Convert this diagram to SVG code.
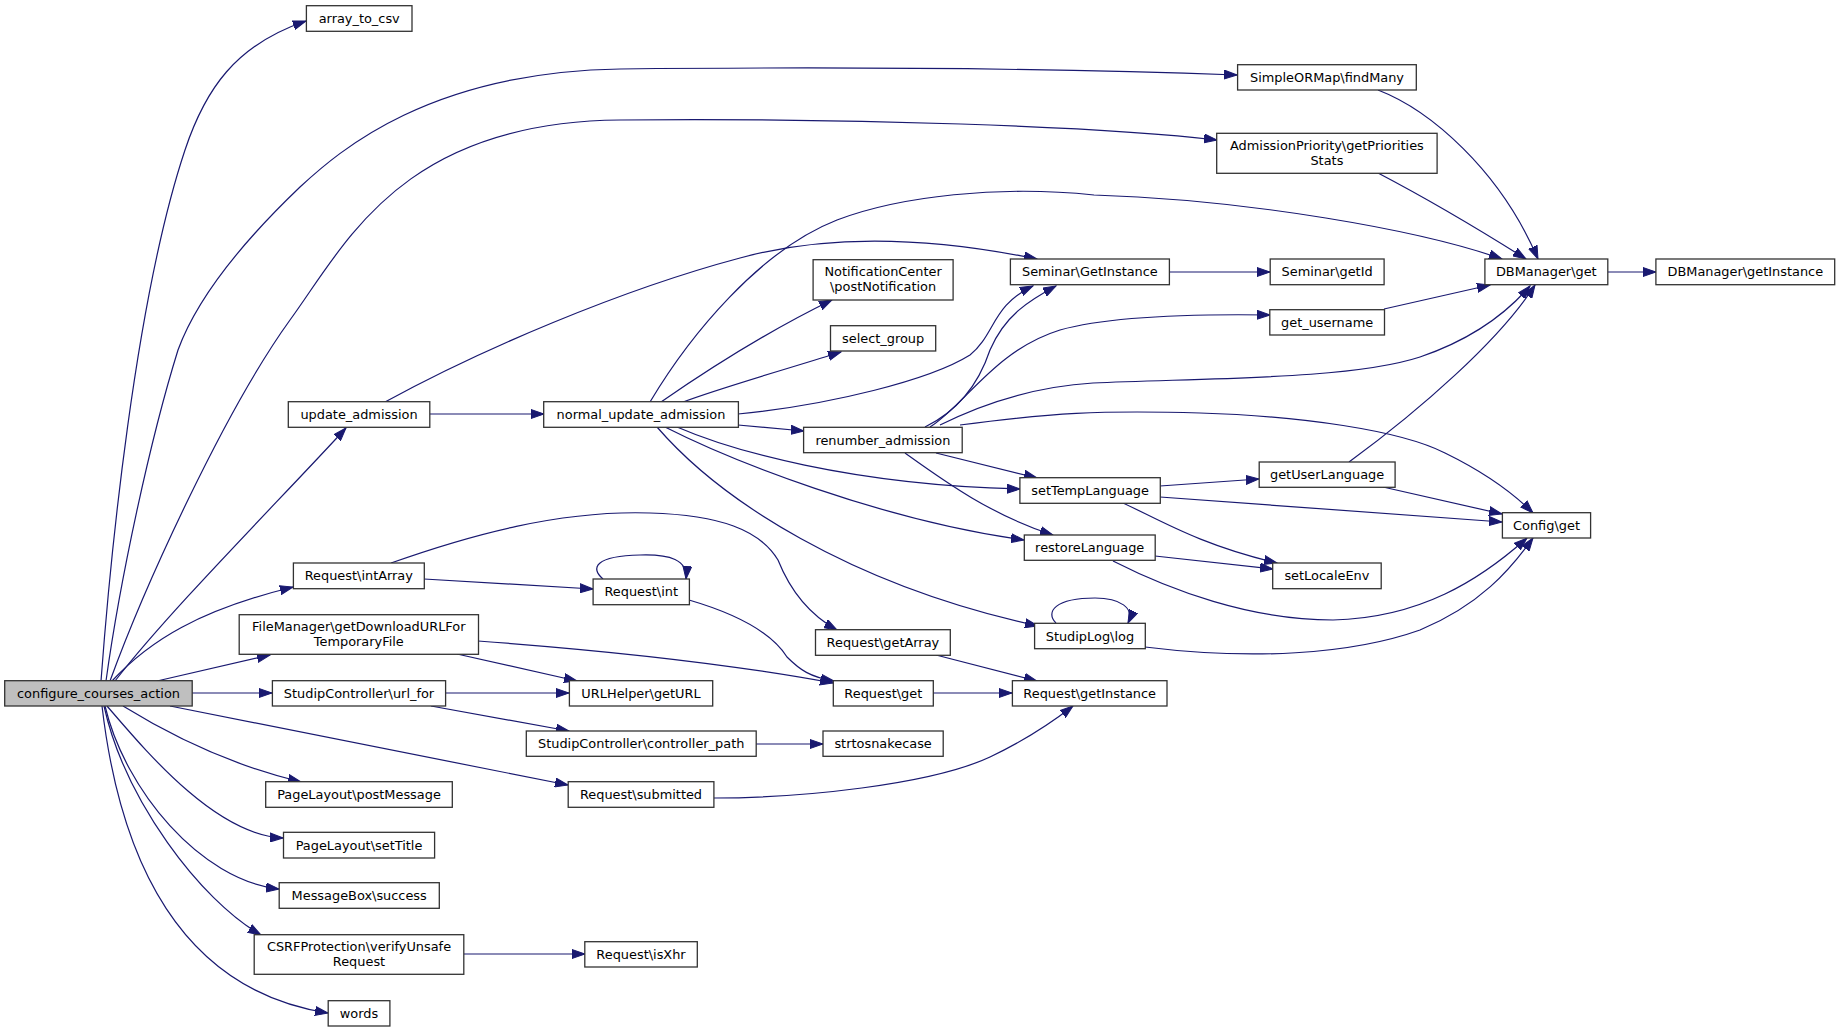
<svg xmlns="http://www.w3.org/2000/svg" width="1840" height="1032" viewBox="0 0 1840 1032">
<style>
.n rect{fill:#fff;stroke:#333;stroke-width:1.3}
.r rect{fill:#bfbfbf}
text{font-family:"DejaVu Sans","Liberation Sans",sans-serif;font-size:12.9px;fill:#000;text-anchor:middle}
.e path{fill:none;stroke:#191970;stroke-width:1.2;marker-end:url(#a)}
</style>
<defs>
<marker id="a" markerUnits="userSpaceOnUse" markerWidth="14" markerHeight="10" refX="13" refY="5" orient="auto"><path d="M0,0.5 L13,5 L0,9.5 z" fill="#191970" stroke="#191970" stroke-width="1"/></marker>
</defs>
<rect width="1840" height="1032" fill="#fff"/>
<g id="connectors" class="e">
<path d="M101,681 C110,560 135,300 185,150 C205,90 235,45 306,21"/>
<path d="M106,681 C120,580 150,440 178,350 C200,290 255,230 300,187 C340,150 430,72 620,69 C900,66 1100,70 1237,75"/>
<path d="M110,681 C145,585 225,410 290,320 C345,245 400,122 620,120 C850,118 1100,126 1217,140"/>
<path d="M115,681 C170,610 280,500 346,428"/>
<path d="M112,681 C150,640 200,610 293,587"/>
<path d="M157,681 L270,655"/>
<path d="M192,693 L272,693"/>
<path d="M170,706 L568,785"/>
<path d="M123,706 C170,735 230,765 301,782"/>
<path d="M107,706 C145,750 215,835 283,838"/>
<path d="M105,706 C125,790 200,880 279,889"/>
<path d="M104,706 C125,800 200,900 261,935"/>
<path d="M102,706 C120,860 180,990 328,1013"/>
<path d="M430,414 L544,414"/>
<path d="M385,402 C480,350 620,290 740,258 C820,236 920,235 1037,259"/>
<path d="M650,402 C690,335 760,250 837,220 C900,196 1000,185 1094,195 C1250,200 1420,230 1502,259"/>
<path d="M661,402 C700,375 760,335 832,300"/>
<path d="M683,402 C720,388 790,368 841,352"/>
<path d="M738,414 C830,405 930,380 970,355 C995,335 992,305 1033,286"/>
<path d="M738,425 L804,431"/>
<path d="M677,427 C730,450 850,485 1020,489"/>
<path d="M665,427 C730,460 880,520 1024,540"/>
<path d="M657,427 C720,500 850,585 1038,626"/>
<path d="M925,427 C960,410 980,380 990,350 C1005,315 1030,300 1056,286"/>
<path d="M930,427 C965,405 995,350 1060,330 C1110,316 1200,314 1270,315"/>
<path d="M940,425 C980,405 1030,387 1093,383 C1200,378 1350,380 1420,357 C1470,340 1505,315 1530,286"/>
<path d="M960,425 C1050,413 1100,410 1200,413 C1300,416 1400,430 1445,453 C1490,475 1515,495 1533,513"/>
<path d="M936,453 L1037,478"/>
<path d="M905,453 C940,478 990,515 1053,535"/>
<path d="M1169,272 L1270,272"/>
<path d="M1384,309 L1490,285"/>
<path d="M1378,90 C1430,110 1500,170 1538,259"/>
<path d="M1378,173 C1420,195 1480,230 1526,259"/>
<path d="M1608,272 L1656,272"/>
<path d="M1160,486 L1259,479"/>
<path d="M1160,497 L1502,522"/>
<path d="M1123,503 C1160,520 1200,545 1277,563"/>
<path d="M1155,556 L1273,569"/>
<path d="M1113,561 C1170,590 1250,620 1333,620 C1420,618 1480,580 1527,538"/>
<path d="M1056,623 C1045,612 1055,598 1095,598 C1120,598 1135,608 1128,623"/>
<path d="M1145,647 C1250,660 1350,655 1420,630 C1480,605 1510,570 1533,538"/>
<path d="M1383,487 L1502,514"/>
<path d="M1349,462 C1420,410 1500,340 1535,285"/>
<path d="M424,579 L593,589"/>
<path d="M391,563 C470,535 560,510 650,513 C720,515 760,530 778,560 C790,590 810,615 837,630"/>
<path d="M603,579 C590,568 595,556 640,555 C670,554 688,560 686,579"/>
<path d="M689,600 C730,612 770,630 787,657 C800,670 810,677 834,681"/>
<path d="M478,641 C600,650 720,662 833,683"/>
<path d="M457,654 L577,681"/>
<path d="M446,693 L569,693"/>
<path d="M431,706 L569,731"/>
<path d="M756,744 L823,744"/>
<path d="M936,655 L1037,681"/>
<path d="M933,693 L1012,693"/>
<path d="M714,798 C800,798 930,785 990,757 C1030,738 1055,720 1073,706"/>
<path d="M464,954 L585,954"/>
</g>
<g id="n_root" class="n r"><rect x="4.7" y="680.7" width="187.5" height="25.3"/><text x="98.5" y="697.8">configure_courses_action</text></g>
<g id="n_array_to_csv" class="n"><rect x="306.4" y="5.7" width="105.6" height="25.6"/><text x="359.2" y="23">array_to_csv</text></g>
<g id="n_findMany" class="n"><rect x="1237.6" y="64.7" width="178.7" height="25.3"/><text x="1327" y="81.8">SimpleORMap\findMany</text></g>
<g id="n_prio" class="n"><rect x="1216.7" y="133.3" width="220.4" height="40"/><text x="1326.9" y="149.5">AdmissionPriority\getPriorities</text><text x="1326.9" y="164.5">Stats</text></g>
<g id="n_notif" class="n"><rect x="813.1" y="259.7" width="140" height="40.3"/><text x="883.1" y="276">NotificationCenter</text><text x="883.1" y="291">\postNotification</text></g>
<g id="n_seminst" class="n"><rect x="1010.4" y="259" width="159" height="25.7"/><text x="1089.9" y="276.3">Seminar\GetInstance</text></g>
<g id="n_semid" class="n"><rect x="1270.2" y="259" width="113.9" height="25.7"/><text x="1327.1" y="276.3">Seminar\getId</text></g>
<g id="n_dbget" class="n"><rect x="1484.9" y="259" width="122.9" height="25.7"/><text x="1546.3" y="276.3">DBManager\get</text></g>
<g id="n_dbinst" class="n"><rect x="1655.9" y="259" width="178.8" height="25.7"/><text x="1745.3" y="276.3">DBManager\getInstance</text></g>
<g id="n_getuser" class="n"><rect x="1269.8" y="309.7" width="114.7" height="25.3"/><text x="1327.1" y="326.8">get_username</text></g>
<g id="n_selgroup" class="n"><rect x="830.5" y="325.7" width="105.2" height="25.3"/><text x="883.1" y="342.8">select_group</text></g>
<g id="n_upd" class="n"><rect x="288.3" y="401.7" width="141.5" height="25.6"/><text x="359" y="419">update_admission</text></g>
<g id="n_normupd" class="n"><rect x="543.7" y="401.7" width="194.7" height="25.6"/><text x="641" y="419">normal_update_admission</text></g>
<g id="n_renum" class="n"><rect x="803.6" y="427.3" width="158.6" height="25.4"/><text x="882.9" y="444.5">renumber_admission</text></g>
<g id="n_getuserlang" class="n"><rect x="1259.2" y="462" width="135.9" height="25.3"/><text x="1327.1" y="479.1">getUserLanguage</text></g>
<g id="n_settemp" class="n"><rect x="1019.9" y="477.7" width="140.4" height="25.6"/><text x="1090.1" y="495">setTempLanguage</text></g>
<g id="n_config" class="n"><rect x="1502.4" y="512.7" width="88.2" height="25.3"/><text x="1546.5" y="529.8">Config\get</text></g>
<g id="n_restore" class="n"><rect x="1024.3" y="535" width="130.9" height="25.3"/><text x="1089.7" y="552.1">restoreLanguage</text></g>
<g id="n_intarray" class="n"><rect x="293.4" y="563" width="130.9" height="25.7"/><text x="358.8" y="580.3">Request\intArray</text></g>
<g id="n_locale" class="n"><rect x="1272.7" y="563" width="108.5" height="25.7"/><text x="1326.9" y="580.3">setLocaleEnv</text></g>
<g id="n_reqint" class="n"><rect x="593.1" y="579" width="96.3" height="25.7"/><text x="641.2" y="596.3">Request\int</text></g>
<g id="n_filemgr" class="n"><rect x="239.2" y="614.7" width="239.3" height="39.6"/><text x="358.8" y="630.8">FileManager\getDownloadURLFor</text><text x="358.8" y="645.8">TemporaryFile</text></g>
<g id="n_log" class="n"><rect x="1034.6" y="623.3" width="110.7" height="25.4"/><text x="1089.9" y="640.5">StudipLog\log</text></g>
<g id="n_getarray" class="n"><rect x="815.5" y="629.7" width="134.8" height="25.6"/><text x="882.9" y="647">Request\getArray</text></g>
<g id="n_urlfor" class="n"><rect x="272.4" y="680.7" width="173.2" height="25.3"/><text x="359" y="697.8">StudipController\url_for</text></g>
<g id="n_geturl" class="n"><rect x="569.4" y="680.7" width="143.3" height="25.3"/><text x="641" y="697.8">URLHelper\getURL</text></g>
<g id="n_reqget" class="n"><rect x="833.3" y="680.7" width="100" height="25.3"/><text x="883.3" y="697.8">Request\get</text></g>
<g id="n_reqinst" class="n"><rect x="1012.4" y="680.7" width="154.6" height="25.3"/><text x="1089.7" y="697.8">Request\getInstance</text></g>
<g id="n_ctrlpath" class="n"><rect x="526.3" y="731" width="229.9" height="25.3"/><text x="641.2" y="748.1">StudipController\controller_path</text></g>
<g id="n_snake" class="n"><rect x="823" y="731" width="120.2" height="25.3"/><text x="883.1" y="748.1">strtosnakecase</text></g>
<g id="n_postmsg" class="n"><rect x="265.7" y="781.7" width="186.6" height="25.6"/><text x="359" y="799">PageLayout\postMessage</text></g>
<g id="n_submitted" class="n"><rect x="568.2" y="781.7" width="145.7" height="25.6"/><text x="641" y="799">Request\submitted</text></g>
<g id="n_settitle" class="n"><rect x="283.5" y="832.3" width="151.1" height="25.7"/><text x="359" y="849.6">PageLayout\setTitle</text></g>
<g id="n_success" class="n"><rect x="279.2" y="882.7" width="160.1" height="25.6"/><text x="359.2" y="900">MessageBox\success</text></g>
<g id="n_csrf" class="n"><rect x="254.2" y="934.7" width="209.6" height="39.6"/><text x="359" y="950.8">CSRFProtection\verifyUnsafe</text><text x="359" y="965.8">Request</text></g>
<g id="n_isxhr" class="n"><rect x="584.8" y="941.7" width="112.5" height="25.3"/><text x="641" y="958.8">Request\isXhr</text></g>
<g id="n_words" class="n"><rect x="328.2" y="1000.7" width="61.7" height="25.3"/><text x="359" y="1017.8">words</text></g>
</svg>
